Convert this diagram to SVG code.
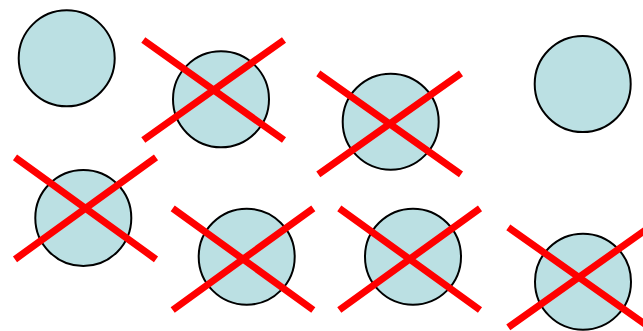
<svg xmlns="http://www.w3.org/2000/svg" width="643" height="331" viewBox="0 0 643 331">
<style>
.c{fill:#BBE0E3;stroke:#000;stroke-width:2}
.x{stroke:#FF0000;stroke-width:7;stroke-linecap:butt;fill:none}
</style>
<rect width="643" height="331" fill="#fff"/>
<g id="n1"><circle class="c" cx="66.7" cy="58.3" r="48"/></g>
<g id="n2"><circle class="c" cx="221" cy="99.3" r="48"/></g>
<g id="n3"><circle class="c" cx="390.7" cy="121.7" r="48"/></g>
<g id="n4"><circle class="c" cx="582.7" cy="84" r="48"/></g>
<g id="n5"><circle class="c" cx="83.3" cy="218" r="48"/></g>
<g id="n6"><circle class="c" cx="246.7" cy="256.7" r="48"/></g>
<g id="n7"><circle class="c" cx="413" cy="256.7" r="48"/></g>
<g id="n8"><circle class="c" cx="583" cy="281.7" r="48"/></g>
<g id="connectors">
<path class="x" d="M143.3,40L284,140M143.3,140L284,40"/>
<path class="x" d="M318.3,73.3L461,174.3M318.3,174.3L461,73.3"/>
<path class="x" d="M15,157.3L156,259.3M15,259.3L156,157.3"/>
<path class="x" d="M172.7,208.3L313.3,310M172.7,310L313.3,208.3"/>
<path class="x" d="M339.3,208.3L480,310M339.3,310L480,208.3"/>
<path class="x" d="M508.3,227.3L649.3,327.3M508.3,327.3L649.3,227.3"/>
</g>
</svg>
